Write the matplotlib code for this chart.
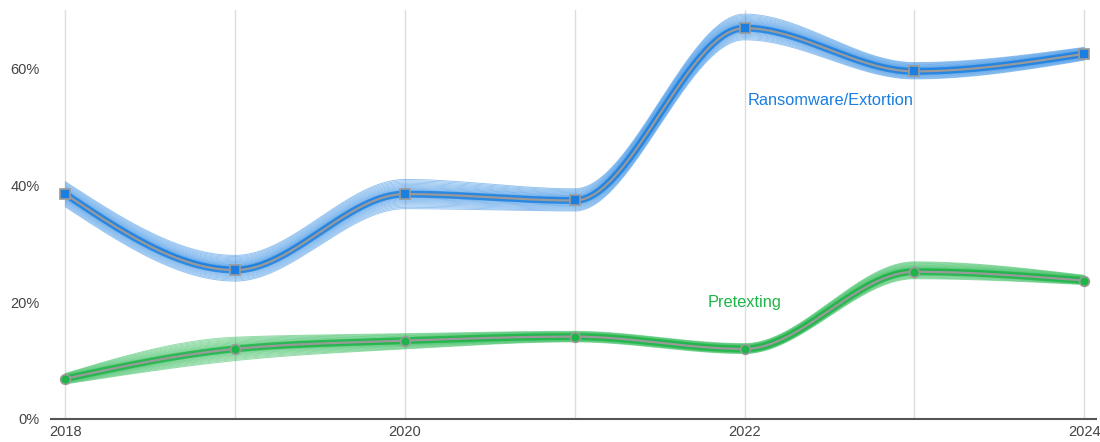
import numpy as np
import matplotlib
matplotlib.use("Agg")
import matplotlib.pyplot as plt

years = [2018, 2019, 2020, 2021, 2022, 2023, 2024]

# central estimates (%)
ransom = [38.5, 25.5, 38.5, 37.4, 66.9, 59.5, 62.5]
pretext = [6.9, 12.0, 13.4, 14.1, 12.0, 25.2, 23.7]

# spread of the simulated draws around each estimate (%)
ransom_lo = [36.3, 23.6, 36.0, 35.6, 64.9, 58.2, 61.4]
ransom_hi = [40.6, 28.0, 41.0, 39.4, 69.3, 61.0, 63.6]
pretext_lo = [6.0, 10.0, 12.0, 13.2, 11.2, 24.0, 23.0]
pretext_hi = [7.8, 14.0, 14.6, 15.0, 12.9, 26.9, 24.6]

xticks = [2018, 2020, 2022, 2024]
yticks = [0, 20, 40, 60]

BLUE = "#1a7fe0"
GREEN = "#1db448"
GREY = "#9a9a9a"


def monotone(x, y, n=60):
    # monotone cubic (Fritsch-Carlson style, like d3.curveMonotoneX)
    x = np.asarray(x, float)
    y = np.asarray(y, float)
    h = np.diff(x)
    s = np.diff(y) / h
    t = np.zeros_like(y)
    for i in range(1, len(y) - 1):
        p = (s[i - 1] * h[i] + s[i] * h[i - 1]) / (h[i - 1] + h[i])
        t[i] = (np.sign(s[i - 1]) + np.sign(s[i])) * min(abs(s[i - 1]), abs(s[i]), 0.5 * abs(p))
    t[0] = (3 * s[0] - t[1]) / 2
    t[-1] = (3 * s[-1] - t[-2]) / 2
    xs, ys = [], []
    for i in range(len(h)):
        u = np.linspace(0, 1, n, endpoint=(i == len(h) - 1))
        h00 = 2 * u**3 - 3 * u**2 + 1
        h10 = u**3 - 2 * u**2 + u
        h01 = -2 * u**3 + 3 * u**2
        h11 = u**3 - u**2
        xs.append(x[i] + u * h[i])
        ys.append(h00 * y[i] + h10 * h[i] * t[i] + h01 * y[i + 1] + h11 * h[i] * t[i + 1])
    return np.concatenate(xs), np.concatenate(ys)


plt.rcParams["font.family"] = ["Liberation Sans", "DejaVu Sans"]

fig = plt.figure(figsize=(11, 4.42), dpi=100)
ax = fig.add_axes([51 / 1100, 23 / 442, 1045 / 1100, 409 / 442])

# bundle of draws, packed toward the middle
u = np.linspace(-1, 1, 40)
fracs = 0.5 + 0.5 * np.sign(u) * np.abs(u) ** 1.8

for mid, lo, hi, col, mk in [(ransom, ransom_lo, ransom_hi, BLUE, "s"),
                             (pretext, pretext_lo, pretext_hi, GREEN, "o")]:
    lo = np.array(lo)
    hi = np.array(hi)
    for f in fracs:
        xs, ys = monotone(years, lo + f * (hi - lo))
        ax.plot(xs, ys, color=col, lw=0.7, alpha=0.45, zorder=2)
    xs, ys = monotone(years, mid)
    ax.plot(xs, ys, color=col, lw=5, alpha=0.8, zorder=3, solid_capstyle="round")
    ax.plot(xs, ys, color=GREY, lw=1.6, zorder=4)
    ax.plot(years, mid, ls="none", marker=mk, ms=7, mfc=col, mec=GREY, mew=1.2, zorder=5)

ax.text(2022.02, 54.5, "Ransomware/Extortion", color=BLUE, fontsize=11.8, va="center")
ax.text(2021.78, 20.0, "Pretexting", color=GREEN, fontsize=11.8, va="center")

ax.set_xlim(2017.915, 2024.07)
ax.set_ylim(0, 70)
ax.set_xticks(years)
ax.set_xticklabels([str(y) if y in xticks else "" for y in years])
ax.set_yticks(yticks)
ax.set_yticklabels([f"{v}%" for v in yticks])
ax.grid(axis="x", color="#dddddd", lw=1, zorder=0)
ax.tick_params(length=0, labelsize=10.5, labelcolor="#444444")
ax.tick_params(axis="y", pad=8)
ax.tick_params(axis="x", pad=4)
for side in ["top", "right", "left"]:
    ax.spines[side].set_visible(False)
ax.spines["bottom"].set_color("#555555")
ax.spines["bottom"].set_linewidth(1.5)

fig.savefig("out.png", dpi=100)
